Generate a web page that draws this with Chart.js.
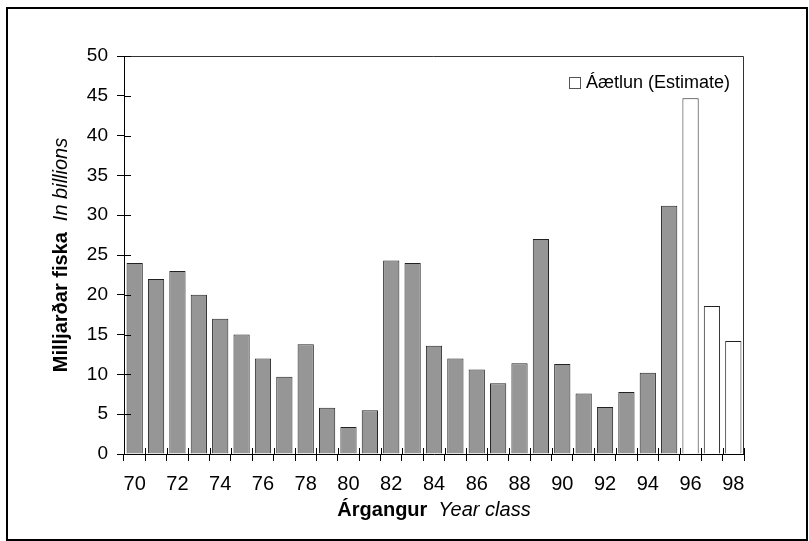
<!DOCTYPE html>
<html>
<head>
<meta charset="utf-8">
<script src="https://cdn.jsdelivr.net/npm/chart.js@4/dist/chart.umd.min.js"></script>
<style>
  html, body { margin: 0; padding: 0; background: #fff; }
  #wrap { width: 809px; height: 541px; }
</style>
</head>
<body>
<div id="wrap"><canvas id="chart" width="809" height="541"></canvas></div>
<script>
// ---------- Data ----------
const years = ['70','71','72','73','74','75','76','77','78','79','80','81','82','83','84',
               '85','86','87','88','89','90','91','92','93','94','95','96','97','98'];
const measured = [24, 22, 23, 20, 17, 15, 12, 9.7, 13.8, 5.8, 3.4, 5.5, 24.3, 24, 13.6,
                  12, 10.6, 8.9, 11.4, 27, 11.3, 7.6, 5.9, 7.8, 10.2, 31.2, null, null, null];
const estimate = [null, null, null, null, null, null, null, null, null, null, null, null, null, null, null,
                  null, null, null, null, null, null, null, null, null, null, null, 44.7, 18.6, 14.2];
const yTicks = [0, 5, 10, 15, 20, 25, 30, 35, 40, 45, 50];
const legendLabel = 'Áætlun (Estimate)';
const yTitle = ['Milljarðar fiska', 'In billions'];
const xTitle = ['Árgangur', 'Year class'];

const FONT = '"Liberation Sans", Arial, sans-serif';

// ---------- Extra drawing: frame, inner ticks, titles, legend ----------
const decor = {
  id: 'decor',
  afterDraw(chart){
    const { ctx, chartArea: a, scales: { x, y } } = chart;
    ctx.save();
    ctx.lineWidth = 1;

    // top / right plot frame
    ctx.strokeStyle = '#333';
    ctx.beginPath();
    ctx.moveTo(a.left, Math.round(a.top) + 0.5);
    ctx.lineTo(Math.round(a.right) - 0.5, Math.round(a.top) + 0.5);
    ctx.lineTo(Math.round(a.right) - 0.5, a.bottom);
    ctx.stroke();

    // inner halves of the tick marks
    ctx.strokeStyle = '#000';
    ctx.beginPath();
    yTicks.forEach(v => {
      const py = Math.round(y.getPixelForValue(v)) + 0.5;
      ctx.moveTo(a.left, py); ctx.lineTo(a.left + 7, py);
    });
    const step = x.getPixelForValue(1) - x.getPixelForValue(0);
    for (let i = 0; i <= years.length; i++){
      const px = Math.round(x.getPixelForValue(i) - step / 2) + 0.5;
      ctx.moveTo(px, a.bottom); ctx.lineTo(px, a.bottom - 6);
    }
    ctx.stroke();

    // x title (bold + italic)
    ctx.fillStyle = '#000';
    ctx.textBaseline = 'middle';
    ctx.textAlign = 'left';
    const gap = 11;
    ctx.font = 'bold 20px ' + FONT;
    const w1 = ctx.measureText(xTitle[0]).width;
    ctx.font = 'italic 20px ' + FONT;
    const w2 = ctx.measureText(xTitle[1]).width;
    let sx = (a.left + a.right) / 2 - (w1 + gap + w2) / 2;
    ctx.font = 'bold 20px ' + FONT;
    ctx.fillText(xTitle[0], sx, 510);
    ctx.font = 'italic 20px ' + FONT;
    ctx.fillText(xTitle[1], sx + w1 + gap, 510);

    // y title, rotated
    ctx.save();
    ctx.translate(61, (a.top + a.bottom) / 2);
    ctx.rotate(-Math.PI / 2);
    ctx.font = 'bold 20px ' + FONT;
    const h1 = ctx.measureText(yTitle[0]).width;
    ctx.font = 'italic 20px ' + FONT;
    const h2 = ctx.measureText(yTitle[1]).width;
    const sy = -(h1 + gap + h2) / 2;
    ctx.font = 'bold 20px ' + FONT;
    ctx.fillText(yTitle[0], sy, 0);
    ctx.font = 'italic 20px ' + FONT;
    ctx.fillText(yTitle[1], sy + h1 + gap, 0);
    ctx.restore();

    // legend (estimate only)
    ctx.fillStyle = '#fff';
    ctx.strokeStyle = '#555';
    ctx.fillRect(569.5, 77.5, 11, 11);
    ctx.strokeRect(569.5, 77.5, 11, 11);
    ctx.fillStyle = '#000';
    ctx.font = '18px ' + FONT;
    ctx.fillText(legendLabel, 586, 83);

    // outer border
    ctx.lineWidth = 2;
    ctx.strokeStyle = '#000';
    ctx.strokeRect(7, 8, 800, 532);
    ctx.restore();
  }
};

const chart = new Chart(document.getElementById('chart'), {
  type: 'bar',
  data: {
    labels: years,
    datasets: [
      { label: 'Mælt', data: measured, backgroundColor: '#969696', borderColor: '#222',
        borderWidth: 1, grouped: false, categoryPercentage: 1, barPercentage: 0.76 },
      { label: legendLabel, data: estimate, backgroundColor: '#fff', borderColor: '#222',
        borderWidth: 1, grouped: false, categoryPercentage: 1, barPercentage: 0.76 }
    ]
  },
  options: {
    responsive: false,
    animation: false,
    layout: { padding: { left: 0, right: 65, top: 56, bottom: 0 } },
    plugins: { legend: { display: false }, tooltip: { enabled: false } },
    scales: {
      x: {
        offset: true,
        grid: { offset: true, drawOnChartArea: false, drawTicks: true, tickLength: 7, color: '#000' },
        border: { color: '#000', width: 1 },
        ticks: {
          autoSkip: false, maxRotation: 0, color: '#000', padding: 11,
          font: { family: FONT, size: 20 },
          callback: (v, i) => (i % 2 === 0 ? years[i] : '')
        },
        afterFit(s){ s.height = 87; }
      },
      y: {
        min: 0, max: 50,
        grid: { drawOnChartArea: false, drawTicks: true, tickLength: 7, color: '#000' },
        border: { color: '#000', width: 1 },
        ticks: { stepSize: 5, color: '#000', padding: 9, font: { family: FONT, size: 19 } },
        afterFit(s){ s.width = 124; }
      }
    }
  },
  plugins: [decor]
});
</script>
</body>
</html>
